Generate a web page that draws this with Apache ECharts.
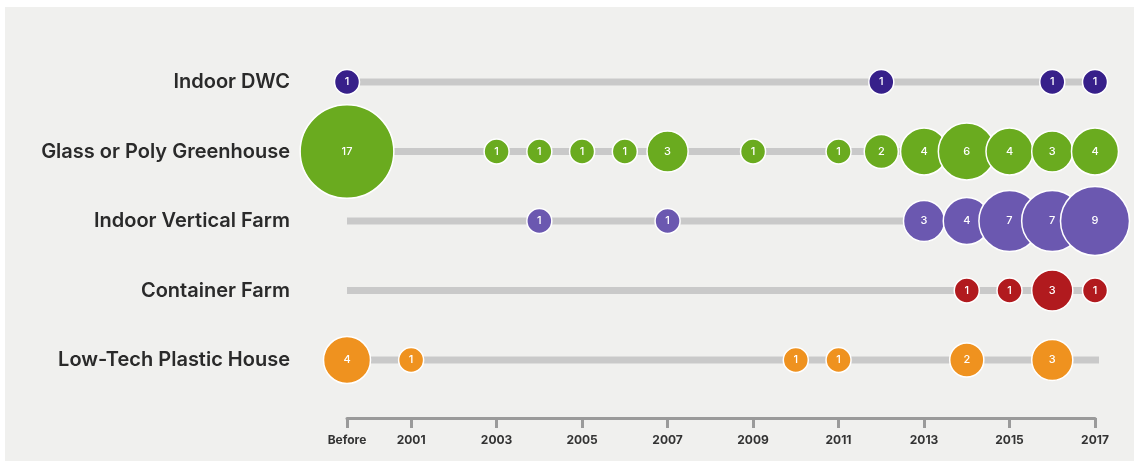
<!DOCTYPE html>
<html>
<head>
<meta charset="utf-8">
<script src="https://cdn.jsdelivr.net/npm/echarts@6/dist/echarts.min.js"></script>
<style>
html,body{margin:0;padding:0;background:#ffffff;}
#wrap{position:absolute;left:5px;top:7px;width:1129px;height:454px;background:#f0f0ee;}
#chart{position:absolute;left:-5px;top:-7px;width:1134px;height:461px;}
</style>
</head>
<body>
<div id="wrap"><div id="chart"></div></div>
<script>
// Categories (top to bottom)
const categories = ["Indoor DWC", "Glass or Poly Greenhouse", "Indoor Vertical Farm", "Container Farm", "Low-Tech Plastic House"];
// "Before" is placed at 1999.5 on the year scale
const BEFORE = 1999.5;
const tickValues = [BEFORE, 2001, 2003, 2005, 2007, 2009, 2011, 2013, 2015, 2017];

// Series values: [year, count]
const indoorDWC = [[BEFORE, 1], [2012, 1], [2016, 1], [2017, 1]];
const greenhouse = [[BEFORE, 17], [2003, 1], [2004, 1], [2005, 1], [2006, 1], [2007, 3], [2009, 1], [2011, 1], [2012, 2], [2013, 4], [2014, 6], [2015, 4], [2016, 3], [2017, 4]];
const verticalFarm = [[2004, 1], [2007, 1], [2013, 3], [2014, 4], [2015, 7], [2016, 7], [2017, 9]];
const containerFarm = [[2014, 1], [2015, 1], [2016, 3], [2017, 1]];
const lowTech = [[BEFORE, 4], [2001, 1], [2010, 1], [2011, 1], [2014, 2], [2016, 3]];

const seriesValues = [indoorDWC, greenhouse, verticalFarm, containerFarm, lowTech];
const colors = ["#37208a", "#6aab1f", "#6b58b0", "#b11a1e", "#ef921f"];
// timeline track extents
const trackStart = [BEFORE, BEFORE, BEFORE, BEFORE, BEFORE];
const trackEnd = [2017, 2017, 2017, 2017, 2017.1];

const series = [];
categories.forEach((c, i) => {
  series.push({
    type: 'line', silent: true, symbol: 'none', z: 1,
    data: [[trackStart[i], c], [trackEnd[i], c]],
    lineStyle: { color: '#c9c9c9', width: 7 }
  });
});
categories.forEach((c, i) => {
  series.push({
    type: 'scatter', z: 3,
    data: seriesValues[i].map(d => [d[0], c, d[1]]),
    symbolSize: d => 22 * Math.sqrt(d[2]) + 3,
    itemStyle: { color: colors[i], borderColor: '#ffffff', borderWidth: 1.5, opacity: 1 },
    label: {
      show: true, position: 'inside', formatter: p => p.data[2],
      color: '#ffffff', fontSize: 11, fontWeight: 500, fontFamily: 'Inter'
    }
  });
});

const chart = echarts.init(document.getElementById('chart'), null, { renderer: 'canvas' });
chart.setOption({
  backgroundColor: 'transparent',
  animation: false,
  grid: { left: 347, right: 39, top: 47.25, bottom: 66.25, containLabel: false },
  xAxis: {
    type: 'value', min: BEFORE, max: 2017, offset: 23.25,
    axisLine: { show: true, lineStyle: { color: '#9a9a9a', width: 3 } },
    axisTick: { show: true, customValues: tickValues, length: 10, lineStyle: { color: '#9a9a9a', width: 3 } },
    axisLabel: {
      customValues: tickValues, margin: 16,
      formatter: v => (v === BEFORE ? 'Before' : String(v)),
      color: '#333333', fontSize: 12, fontWeight: 700, fontFamily: 'Inter'
    },
    splitLine: { show: false }
  },
  yAxis: {
    type: 'category', data: categories, inverse: true, boundaryGap: true,
    axisLine: { show: false }, axisTick: { show: false }, splitLine: { show: false },
    axisLabel: { margin: 57, color: '#2a2a2a', fontSize: 20, fontWeight: 600, fontFamily: 'Inter' }
  },
  series: series
});
</script>
</body>
</html>
